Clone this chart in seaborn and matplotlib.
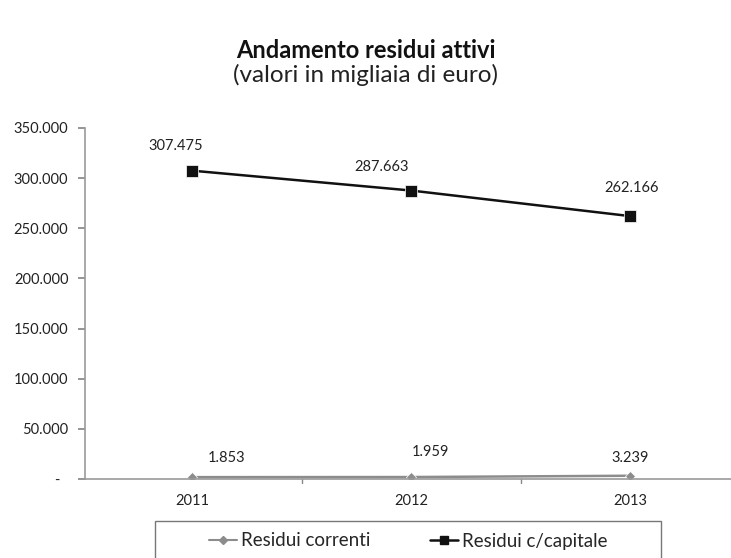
import matplotlib
matplotlib.use("Agg")
import matplotlib.pyplot as plt
from matplotlib.patches import Rectangle
import seaborn as sns
import pandas as pd

years = ["2011", "2012", "2013"]
residui_correnti = [1853, 1959, 3239]
residui_capitale = [307475, 287663, 262166]
series_names = ["Residui correnti", "Residui c/capitale"]
y_ticks = [0, 50000, 100000, 150000, 200000, 250000, 300000, 350000]
y_tick_labels = ["-  ", "50.000", "100.000", "150.000", "200.000", "250.000", "300.000", "350.000"]

sns.set_theme(style="white")
plt.rcParams["font.family"] = ["Lato", "DejaVu Sans"]

df = pd.DataFrame({
    "anno": list(range(len(years))) * 2,
    "valore": residui_correnti + residui_capitale,
    "serie": [series_names[0]] * len(years) + [series_names[1]] * len(years),
})

fig = plt.figure(figsize=(7.31, 5.58), dpi=100)
ax = fig.add_axes([85 / 731, 79 / 558, (731 - 85) / 731, (430 - 79) / 558])

sns.lineplot(data=df, x="anno", y="valore", hue="serie", style="serie",
             palette={series_names[0]: "#8c8c8c", series_names[1]: "#111111"},
             markers={series_names[0]: "D", series_names[1]: "s"},
             dashes=False, linewidth=1.8, markersize=7, ax=ax, legend=False)
for line, ms in zip(ax.lines, [5, 8]):
    line.set_markersize(ms)
    line.set_markeredgewidth(0.5)

def fmt(v):
    return f"{v:,}".replace(",", ".")

cap_offsets = [(-12, 13), (-21, 12), (1, 15)]
cor_offsets = [(25, 9), (14, 13), (0, 8)]
for i, v in enumerate(residui_capitale):
    ax.annotate(fmt(v), (i, v), xytext=cap_offsets[i], textcoords="offset points",
                ha="center", va="bottom", fontsize=10.5, color="#222222")
for i, v in enumerate(residui_correnti):
    ax.annotate(fmt(v), (i, v), xytext=cor_offsets[i], textcoords="offset points",
                ha="center", va="bottom", fontsize=10.5, color="#222222")

ax.set_xlim(-107 / 219, (731 - 192) / 219)
ax.set_ylim(0, 350000)
ax.set_yticks(y_ticks)
ax.set_yticklabels(y_tick_labels, fontsize=10.5, color="#222222")
ax.set_xticks(range(len(years)))
ax.set_xticklabels(years, fontsize=10.5, color="#222222")
ax.set_xlabel("")
ax.set_ylabel("")
ax.tick_params(axis="y", left=True, length=5, color="#888888", pad=7)
ax.tick_params(axis="x", bottom=False, pad=5)
for x in [0.5, 1.5]:
    ax.plot([x, x], [0, -3500], color="#888888", lw=1, clip_on=False)
for s in ["top", "right"]:
    ax.spines[s].set_visible(False)
ax.spines["left"].set_color("#999999")
ax.spines["bottom"].set_color("#999999")
ax.spines["left"].set_linewidth(1.2)
ax.spines["bottom"].set_linewidth(1.2)

fig.text(0.5, 1 - 50 / 558, "Andamento residui attivi", ha="center", va="center",
         fontsize=17, fontweight="bold", color="#111111")
fig.text(0.5, 1 - 75 / 558, "(valori in migliaia di euro)", ha="center", va="center",
         fontsize=17.5, color="#222222")

# legend frame drawn separately so it can run past the bottom edge
fig.patches.append(Rectangle((155 / 731, -0.05), (661 - 155) / 731, 0.05 + 37 / 558,
                             transform=fig.transFigure, fill=False,
                             edgecolor="#777777", linewidth=1.0))
handles = [plt.Line2D([], [], color="#8c8c8c", marker="D", markersize=4, lw=1.5),
           plt.Line2D([], [], color="#111111", marker="s", markersize=6, lw=1.8)]
leg = fig.legend(handles, series_names, loc="center", ncol=2,
                 bbox_to_anchor=(408 / 731, 1 - 541 / 558),
                 fontsize=13.5, frameon=False,
                 handlelength=1.5, handletextpad=0.2, columnspacing=3.2)

fig.savefig("out.png", dpi=100)
